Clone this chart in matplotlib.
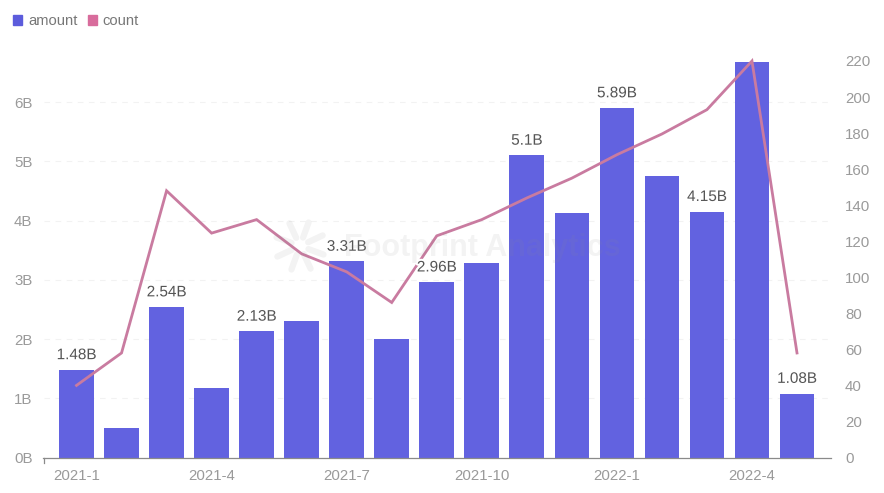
import math
import matplotlib
matplotlib.use("Agg")
import matplotlib.pyplot as plt
import matplotlib.patheffects as pe
from matplotlib.lines import Line2D
from matplotlib.patches import Patch

months = ["2021-1","2021-2","2021-3","2021-4","2021-5","2021-6","2021-7","2021-8","2021-9",
          "2021-10","2021-11","2021-12","2022-1","2022-2","2022-3","2022-4","2022-5"]
amount = [1.48,0.50,2.54,1.18,2.13,2.30,3.31,2.00,2.96,3.28,5.10,4.13,5.90,4.75,4.15,6.68,1.08]
count = [40,58,148,124.5,132,113,103,86,123,132,144,155,168,179.5,193,220,58]
bar_labels = {0:"1.48B",2:"2.54B",4:"2.13B",6:"3.31B",8:"2.96B",10:"5.1B",12:"5.89B",14:"4.15B",16:"1.08B"}
left_ticks = [0,1,2,3,4,5,6]
right_ticks = list(range(0,221,20))

plt.rcParams['font.family'] = ['Liberation Sans','DejaVu Sans']
W,H = 884,493
fig = plt.figure(figsize=(W/100,H/100),dpi=100)
ax = fig.add_axes([43.5/W,1-457.5/H,(831-43.5)/W,(457.5-61)/H])
BAR="#6262E0"; LINE="#C97BA0"; GREY="#9A9A9A"; TICK=10.8
x = list(range(len(months)))
ax.bar(x,amount,width=0.77,color=BAR,zorder=2)
ax.set_xlim(-0.733,16.755)
ax.set_ylim(0,6.692)
ax.set_yticks(left_ticks)
ax.set_yticklabels([f"{v}B" for v in left_ticks],color=GREY,fontsize=TICK)
ax.set_xticks(x[::3])
ax.set_xticklabels(months[::3],color=GREY,fontsize=TICK)
ax.tick_params(axis='both',length=0)
ax.tick_params(axis='x',pad=8)
ax.tick_params(axis='y',pad=8)
for s in ['top','left','right']:
    ax.spines[s].set_visible(False)
ax.spines['bottom'].set_color("#8A8A8A")
ax.spines['bottom'].set_linewidth(0.9)
ax.yaxis.grid(True,color="#F2F2F2",linestyle=(0,(5,5)),linewidth=0.8,zorder=0)
ax.set_axisbelow(True)

ax2 = ax.twinx()
ax2.set_ylim(0,220)
ax2.set_yticks(right_ticks)
ax2.set_yticklabels([str(v) for v in right_ticks],color=GREY,fontsize=TICK)
ax2.tick_params(axis='y',length=0,pad=10)
for s in ax2.spines.values():
    s.set_visible(False)
ax2.plot(x,count,color=LINE,linewidth=2.0,zorder=3,clip_on=False,solid_joinstyle='miter')
for i,t in bar_labels.items():
    ax2.annotate(t,(i,amount[i]*220/6.692),xytext=(0,5.5),textcoords='offset points',
                 ha='center',va='bottom',fontsize=11,color="#555555",zorder=5,
                 path_effects=[pe.withStroke(linewidth=3,foreground='white')])

# first tick mark of the axis
fig.add_artist(Line2D([43.5/W,43.5/W],[1-457.5/H,1-463/H],color="#8A8A8A",lw=0.9))

# watermark
fig.text(482/W,1-248/H,"Footprint Analytics",fontsize=22,fontweight='bold',color="#8C8C8C",alpha=0.10,
         ha='center',va='center',zorder=10)
cx,cy,r0,r1=300,246,9,25
for a in range(0,360,45):
    ca,sa=math.cos(math.radians(a+20)),math.sin(math.radians(a+20))
    fig.add_artist(Line2D([(cx+r0*ca)/W,(cx+r1*ca)/W],[1-(cy+r0*sa)/H,1-(cy+r1*sa)/H],
                          color="#8C8C8C",alpha=0.10,lw=4.5,solid_capstyle='round',zorder=10))

leg = fig.legend(handles=[Patch(color="#5C5CDC",label="amount"),Patch(color="#D86C9C",label="count")],
                 loc='upper left',bbox_to_anchor=(8.5/W,1-10/H),bbox_transform=fig.transFigure,
                 ncol=2,frameon=False,fontsize=10.6,handlelength=0.62,handleheight=0.62,
                 handletextpad=0.4,columnspacing=0.7,labelcolor="#777777",borderpad=0.3,borderaxespad=0)
fig.savefig("out.png",dpi=100)
